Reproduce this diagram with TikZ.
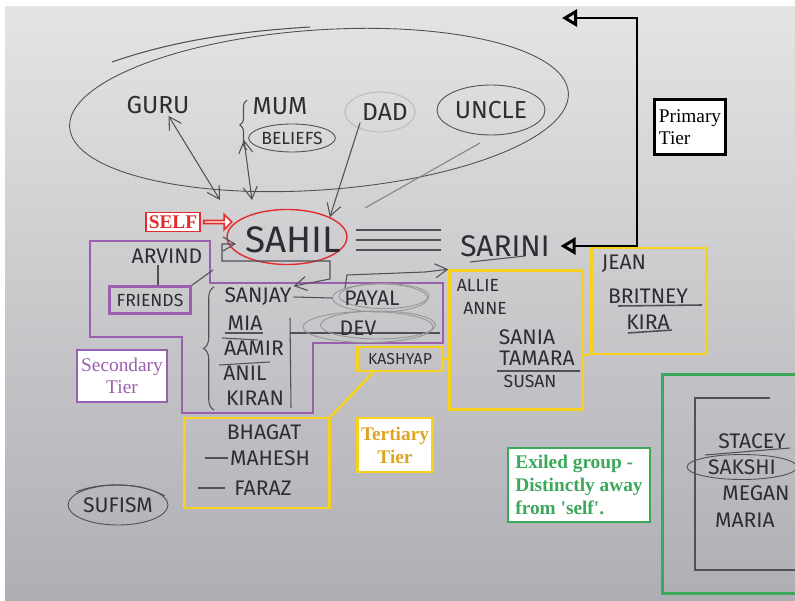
\documentclass[tikz,border=0pt]{standalone}
\usepackage{fontspec}
\setmainfont{Liberation Serif}
\newfontfamily\hand{Fira Sans}
\usetikzlibrary{arrows.meta,shapes.geometric,shapes.arrows,decorations.pathreplacing}
\definecolor{pencil}{RGB}{45,45,50}
\definecolor{lead}{RGB}{80,80,85}
\definecolor{paperTop}{RGB}{228,228,228}
\definecolor{paperBot}{RGB}{174,174,180}
\definecolor{tierPurple}{RGB}{155,95,175}
\definecolor{tierYellow}{RGB}{248,208,30}
\definecolor{tierGold}{RGB}{222,165,35}
\definecolor{tierGreen}{RGB}{60,168,90}
\definecolor{selfRed}{RGB}{225,45,45}
\tikzset{
 scrawl/.style={font=\hand\fontsize{12}{12}\selectfont, text=pencil, inner sep=1pt},
 scrawl large/.style={scrawl, font=\hand\fontsize{14}{14}\selectfont},
 scrawl small/.style={scrawl, font=\hand\fontsize{10}{10}\selectfont},
 lead line/.style={draw=lead, line width=0.6pt},
 lead arrow/.style={lead line, >={Straight Barb[length=2.4mm, width=2.8mm]}},
 ring/.style={draw=lead, ellipse, line width=0.5pt, inner sep=0pt},
 tier label/.style={draw, line width=1.2pt, fill=white, inner sep=2pt, font=\fontsize{11}{12.5}\selectfont},
 group box/.style={draw=tierYellow, line width=1.4pt, inner sep=0pt},
}

\begin{document}
\begin{tikzpicture}[x=0.02cm, y=-0.02cm]
\clip (0,0) rectangle (795,601);
\fill[white] (0,0) rectangle (795,601);
\shade[top color=paperTop, bottom color=paperBot] (5,7) rectangle (795,601);

% primary circle
\node[ring, minimum width=10cm, minimum height=3.2cm, rotate=4] (core) at (319,110) {};
\draw[lead line] (112,62) .. controls (170,42) and (230,32) .. (310,27);
\node[scrawl large] (guru) at (158,105) {GURU};
\node[scrawl large] (mum) at (280,106) {MUM};
\node[scrawl small, ring, minimum width=1.6cm, minimum height=0.56cm] (beliefs) at (292,138) {BELIEFS};
\draw[lead line, decorate, decoration={brace, amplitude=4pt}] (247,150) -- (247,100);
\node[ring, draw=lead!40, minimum width=1.4cm, minimum height=0.8cm] (dadRing) at (380,112) {};
\node[scrawl large] (dad) at (385,112) {DAD};
\node[scrawl large, ring, minimum width=2.16cm, minimum height=1cm] (uncle) at (491,110) {UNCLE};

% self
\node[ring, draw=selfRed, line width=0.8pt, minimum width=2.4cm, minimum height=1.1cm] (sahil) at (287,237) {};
\node[scrawl, font=\hand\fontsize{21}{21}\selectfont] (sahilName) at (293,240) {SAHIL};
\node[tier label, draw=selfRed, text=selfRed, font=\bfseries\fontsize{11}{12}\selectfont, line width=1pt, minimum width=1.08cm, minimum height=0.38cm, inner sep=1pt] (self) at (173,222) {SELF};
\node[single arrow, draw=selfRed, line width=1pt, fill=white, minimum height=0.56cm, minimum width=0.3cm, single arrow head extend=2pt, inner sep=0pt] (selfArrow) at (217,222) {};

\coordinate (guruEnd) at (220,200);
\coordinate (mumRoot) at (244,140);
\coordinate (mumEnd) at (252,200);
\coordinate (uncleTail) at (480,143);
\coordinate (uncleEnd) at (365,208);
\draw[lead arrow, <->] ([xshift=6pt]guru.south) -- (guruEnd);
\draw[lead arrow, <->] (mumRoot) -- (mumEnd);
\draw[lead arrow, ->] (dad.south west) -- (sahil.north east);
\draw[lead line, draw=lead!70] (uncleTail) -- (uncleEnd);

% partner
\node[scrawl, font=\hand\fontsize{17}{17}\selectfont] (sarini) at (505,246) {SARINI};
\draw[lead line] (470,262) -- (525,256);
\draw[lead line, line width=0.9pt] ([shift={(8,-7)}]sahil.east) -- +(85,0);
\draw[lead line, line width=0.9pt] ([shift={(8,3)}]sahil.east) -- +(85,0);
\draw[lead line, line width=0.9pt] ([shift={(8,13)}]sahil.east) -- +(85,0);
\coordinate (primTop) at (562,18);
\draw[line width=1.7pt, {Triangle[open, length=3mm, width=3.4mm]}-{Triangle[open, length=3mm, width=3.4mm]}] (primTop) -- ++(75,0) |- ([xshift=5pt]sarini.east);
\node[tier label, line width=1.7pt, align=left, minimum width=1.42cm, minimum height=1.1cm] (primary) at (690,127) {Primary\\Tier};

% secondary tier
\draw[tierPurple, line width=1.2pt] (90,241) -- (210,241) -- (210,283) -- (443,283) -- (443,343) -- (313,343) -- (313,413) -- (182,413) -- (182,337) -- (90,337) -- cycle;
\node[scrawl] (arvind) at (167,256) {ARVIND};
\node[scrawl small, draw=tierPurple, line width=1.2pt, minimum width=1.62cm, minimum height=0.54cm] (friends) at (150,300) {FRIENDS};
\draw[lead line] (arvind.south -| 158,0) -- (friends.north -| 158,0);
\coordinate (friendsLink) at (213,270);
\draw[lead line] (friends.north east) -- (friendsLink);
\node[tier label, draw=tierPurple, text=tierPurple, align=center, minimum width=1.8cm, minimum height=1.04cm] (secondary) at (122,376) {Secondary\\Tier};

\draw[lead line, decorate, decoration={brace, amplitude=6pt}] (214,410) -- (214,287);
\node[scrawl] (sanjay) at (258,297) {SANJAY};
\node[scrawl] (mia) at (245,323) {MIA};
\node[scrawl] (aamir) at (254,348) {AAMIR};
\node[scrawl] (anil) at (245,373) {ANIL};
\node[scrawl] (kiran) at (255,398) {KIRAN};
\draw[lead line, line width=1pt] (225,333) -- (263,333);
\draw[lead line] (222,338) -- (258,340);
\draw[lead line] (219,365) -- (270,362);
\draw[lead line] (290,318) -- (291,408);
\draw[lead line] (290,333) -- (440,333);
\node[ring, draw=lead!60, minimum width=1.9cm, minimum height=0.56cm] (payalRing) at (380,298) {};
\node[ring, draw=lead!60, minimum width=1.8cm, minimum height=0.5cm] (payalRingB) at (384,296) {};
\node[scrawl] (payal) at (372,298) {PAYAL};
\node[ring, draw=lead!60, minimum width=2.6cm, minimum height=0.62cm] (devRing) at (368,327) {};
\node[ring, draw=lead!60, minimum width=2.3cm, minimum height=0.56cm] (devRingB) at (378,325) {};
\node[scrawl] (dev) at (358,328) {DEV};
\draw[lead line] (sanjay.east) -- (payalRing.west);
\draw[lead arrow, <->] (236,244) -- (222,244) -- (222,261) -- (330,261) -- (330,279) -- (sanjay.north east);

% tertiary tier
\node[group box, minimum width=2.66cm, minimum height=2.78cm] (allieBox) at (516,340) {};
\node[group box, minimum width=2.3cm, minimum height=2.12cm] (jeanBox) at (649,301) {};
\node[group box, scrawl small, draw=tierYellow, font=\hand\fontsize{9}{9}\selectfont, minimum width=1.7cm, minimum height=0.48cm] (kashyap) at (400,359) {KASHYAP};
\node[group box, minimum width=2.9cm, minimum height=1.8cm] (bhagatBox) at (257,463) {};
\draw[tierYellow, line width=1.4pt] (kashyap.east) -- (kashyap.east -| allieBox.west);
\draw[tierYellow, line width=1.4pt] (jeanBox.south west) -- (jeanBox.south west -| allieBox.east);
\draw[tierYellow, line width=1.4pt] ([xshift=0.34cm]kashyap.south west) -- (bhagatBox.north east);
\draw[lead arrow, ->] (345,288) -- (347,275) -- (425,272) -- (allieBox.north west);

\node[scrawl small] (allie) at (478,285) {ALLIE};
\node[scrawl small] (anne) at (485,308) {ANNE};
\node[scrawl] (sania) at (527,337) {SANIA};
\node[scrawl] (tamara) at (537,358) {TAMARA};
\node[scrawl small] (susan) at (530,381) {SUSAN};
\draw[lead line] (497,371) -- (580,371);
\node[scrawl] (jean) at (624,264) {JEAN};
\node[scrawl] (britney) at (648,296) {BRITNEY};
\node[scrawl] (kira) at (648,322) {KIRA};
\draw[lead line, line width=0.9pt] (618,306) -- (702,305);
\draw[lead line, line width=0.9pt] (628,333) -- (672,330);
\node[scrawl] (bhagat) at (264,432) {BHAGAT};
\node[scrawl] (mahesh) at (270,458) {MAHESH};
\node[scrawl] (faraz) at (263,488) {FARAZ};
\draw[lead line] (205,458) -- (228,458);
\draw[lead line] (198,488) -- (225,488);
\node[tier label, draw=tierYellow, text=tierGold, font=\bfseries\fontsize{11}{13}\selectfont, align=center, minimum width=1.48cm, minimum height=1.08cm] (tertiary) at (395,445) {Tertiary\\Tier};

% exiled group
\node[draw=tierGreen, line width=1.3pt, minimum width=2.74cm, minimum height=4.38cm] (exileBox) at (731,484) {};
\draw[lead line] (770,398) -- (695,398) -- (695,570) -- (800,570);
\node[scrawl] (stacey) at (752,441) {STACEY};
\draw[lead line] (705,455) -- (790,448);
\node[scrawl, ring, minimum width=2.2cm, minimum height=0.5cm] (sakshi) at (742,467) {SAKSHI};
\node[scrawl] (megan) at (756,493) {MEGAN};
\node[scrawl] (maria) at (745,520) {MARIA};
\node[tier label, draw=tierGreen, text=tierGreen, font=\bfseries\fontsize{11}{13}\selectfont, align=left, minimum width=2.84cm, minimum height=1.48cm] (exiled) at (579,485) {Exiled group -\\Distinctly away\\from \textquotesingle self\textquotesingle.};

\node[scrawl, ring, minimum width=2cm, minimum height=0.8cm] (sufism) at (118,505) {SUFISM};
\draw[lead line] (76,492) .. controls (100,482) and (140,482) .. (165,496);
\end{tikzpicture}
\end{document}
